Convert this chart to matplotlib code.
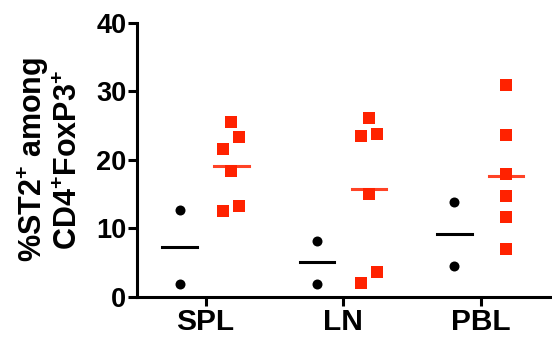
import matplotlib.pyplot as plt
import numpy as np

plt.rcParams['font.family'] = ['Liberation Sans', 'DejaVu Sans']
plt.rcParams['font.weight'] = 'bold'
plt.rcParams['mathtext.fontset'] = 'custom'
plt.rcParams['mathtext.rm'] = 'Liberation Sans:bold'
plt.rcParams['mathtext.it'] = 'Liberation Sans:bold'
plt.rcParams['mathtext.bf'] = 'Liberation Sans:bold'

# data
groups = ['SPL', 'LN', 'PBL']
black_vals = [[12.7, 1.8], [8.2, 1.8], [13.9, 4.5]]
red_vals = [[25.5, 23.4, 21.6, 18.3, 13.3, 12.5],
            [26.1, 23.8, 23.5, 15.0, 3.6, 2.0],
            [31.0, 23.6, 17.9, 14.7, 11.6, 7.0]]

RED = '#ff2200'

fig = plt.figure(figsize=(5.52, 3.47), dpi=100)
ax = fig.add_axes([0.248, 0.145, 0.752, 0.789])

# small horizontal jitter for the red squares (layout only)
jit = [[0, 1, -1, 0, 1, -1], [0, 1, -1, 0, 1, -1], [0, 0, 0, 0, 0, 0]]

for i in range(len(groups)):
    b = np.array(black_vals[i])
    r = np.array(red_vals[i])
    xb = i - 0.19
    xr = i + 0.187
    ax.plot([xb] * len(b), b, 'o', color='black', ms=7.2, mew=0, clip_on=False)
    ax.plot([xb - 0.127, xb + 0.127], [b.mean(), b.mean()], color='black', lw=2.2)
    ax.plot(xr + np.array(jit[i]) * 0.058, r, 's', color=RED, ms=8, mew=0, clip_on=False)
    ax.plot([xr - 0.125, xr + 0.125], [r.mean(), r.mean()], color=RED, lw=2.2, alpha=0.85)

ax.set_xlim(-0.5, 2.52)
ax.set_ylim(0, 40)
ax.set_yticks([0, 10, 20, 30, 40])
ax.set_xticks(range(len(groups)))
ax.set_xticklabels(groups, fontsize=21.5, fontweight='bold')
for lab in ax.get_yticklabels():
    lab.set_fontsize(19.5)
    lab.set_fontweight('bold')

for s in ['top', 'right']:
    ax.spines[s].set_visible(False)
for s in ['left', 'bottom']:
    ax.spines[s].set_linewidth(2.2)
ax.tick_params(width=2.2, length=6.5)
ax.tick_params(axis='y', pad=1)
ax.tick_params(axis='x', pad=2)

ax.set_ylabel('%ST2$^{+}$ among\nCD4$^{+}$FoxP3$^{+}$', fontsize=22,
              fontweight='bold', linespacing=1.12, labelpad=9)

fig.savefig('out.png', dpi=100)
